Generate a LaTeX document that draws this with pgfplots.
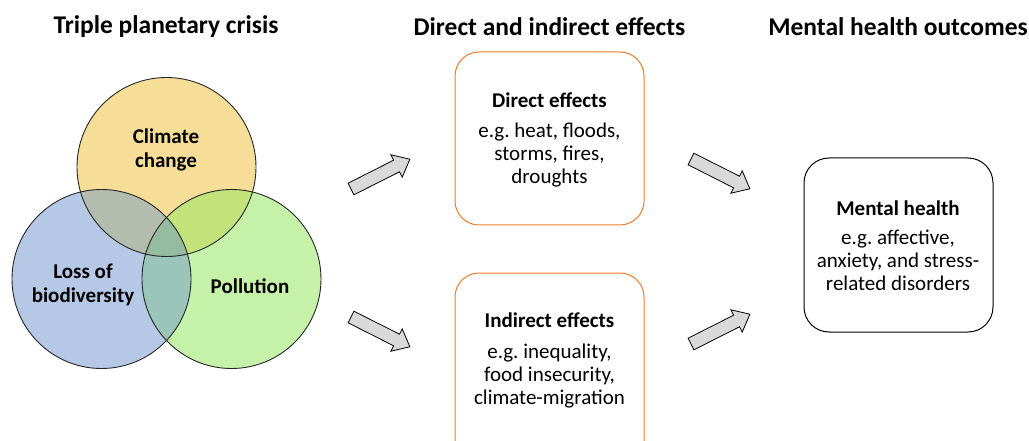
\documentclass[border=0pt]{standalone}
\usepackage{pgfplots}
\pgfplotsset{compat=1.18}
\usepackage{fontspec}
\setmainfont{Carlito}
\frenchspacing
\definecolor{cy}{HTML}{F7DE98}
\definecolor{cb}{HTML}{B5C9E6}
\definecolor{cg}{HTML}{C5F1A8}
\definecolor{cyb}{HTML}{B4BCB0}
\definecolor{cyg}{HTML}{C2E27A}
\definecolor{cbg}{HTML}{9BC5BB}
\definecolor{cybg}{HTML}{95BC9F}
\definecolor{cor}{HTML}{ED7D31}
\definecolor{carr}{HTML}{D9D9D9}
\begin{document}
\begin{tikzpicture}
\begin{axis}[width=1029pt,height=441pt,scale only axis,
  xmin=0,xmax=1029,ymin=0,ymax=441,y dir=reverse,axis lines=none,
  clip=true]
\path (axis cs:0,0) rectangle (axis cs:1029,441);
% circles
\fill[cy] (axis cs:166.5,167) circle[radius=89.5];
\fill[cb] (axis cs:101.5,279) circle[radius=89.5];
\fill[cg] (axis cs:231.5,279) circle[radius=89.5];
\begin{scope}
\clip (axis cs:166.5,167) circle[radius=89.5];
\fill[cyb] (axis cs:101.5,279) circle[radius=89.5];
\fill[cyg] (axis cs:231.5,279) circle[radius=89.5];
\clip (axis cs:101.5,279) circle[radius=89.5];
\fill[cybg] (axis cs:231.5,279) circle[radius=89.5];
\end{scope}
\begin{scope}
\clip (axis cs:101.5,279) circle[radius=89.5];
\clip (axis cs:231.5,279) circle[radius=89.5];
\fill[cbg] (axis cs:231.5,279) circle[radius=89.5];
\clip (axis cs:166.5,167) circle[radius=89.5];
\fill[cybg] (axis cs:231.5,279) circle[radius=89.5];
\end{scope}
\draw[line width=0.9pt,black!85] (axis cs:166.5,167) circle[radius=89.5];
\draw[line width=0.9pt,black!85] (axis cs:101.5,279) circle[radius=89.5];
\draw[line width=0.9pt,black!85] (axis cs:231.5,279) circle[radius=89.5];
% arrows
\addplot[fill=carr,draw=black,line width=0.8pt] coordinates {(353.9,194.8) (399.5,171.8) (402.2,177.2) (409.9,159.2) (390.9,154.8) (393.6,160.2) (348.1,183.2)} -- cycle;
\addplot[fill=carr,draw=black,line width=0.8pt] coordinates {(348.1,322.8) (393.6,345.8) (390.9,351.2) (409.9,346.8) (402.2,328.8) (399.5,334.2) (353.9,311.2)} -- cycle;
\addplot[fill=carr,draw=black,line width=0.8pt] coordinates {(688.1,164.8) (733.6,187.8) (730.9,193.2) (749.9,188.8) (742.2,170.8) (739.5,176.2) (693.9,153.2)} -- cycle;
\addplot[fill=carr,draw=black,line width=0.8pt] coordinates {(693.9,349.8) (739.5,326.8) (742.2,332.2) (749.9,314.2) (730.9,309.8) (733.6,315.2) (688.1,338.2)} -- cycle;
% boxes
\draw[cor,line width=1pt,rounded corners=24pt] (axis cs:455,52) rectangle (axis cs:644,225);
\draw[cor,line width=1pt,rounded corners=24pt] (axis cs:455,441) -- (axis cs:455,273) -- (axis cs:644,273) -- (axis cs:644,441);
\draw[black,line width=1pt,rounded corners=25pt] (axis cs:804,158) rectangle (axis cs:993,332);
% titles
\node[font=\fontsize{25.5}{30}\selectfont\bfseries] at (axis cs:166,27) {Triple planetary crisis};
\node[font=\fontsize{25.5}{30}\selectfont\bfseries] at (axis cs:549.5,27) {Direct and indirect effects};
\node[font=\fontsize{25.5}{30}\selectfont\bfseries] at (axis cs:898,27) {Mental health outcomes};
% circle labels
\node[align=center,font=\fontsize{21}{23.5}\selectfont\bfseries] at (axis cs:166,150) {Climate\\change};
\node[align=center,font=\fontsize{21}{23.5}\selectfont\bfseries] at (axis cs:83,285) {Loss of\\biodiversity};
\node[align=center,font=\fontsize{21}{23.5}\selectfont\bfseries] at (axis cs:250,286) {Pollution};
% box texts
\node[font=\fontsize{21}{23}\selectfont\bfseries] at (axis cs:549.5,100) {Direct effects};
\node[align=center,font=\fontsize{21}{23}\selectfont] at (axis cs:549.5,155) {e.g. heat, floods,\\storms, fires,\\droughts};
\node[font=\fontsize{21}{23}\selectfont\bfseries] at (axis cs:549.5,320) {Indirect effects};
\node[align=center,font=\fontsize{21}{23}\selectfont] at (axis cs:549.5,376) {e.g. inequality,\\food insecurity,\\climate-migration};
\node[font=\fontsize{21}{23}\selectfont\bfseries] at (axis cs:898,208) {Mental health};
\node[align=center,font=\fontsize{21}{23}\selectfont] at (axis cs:898,260) {e.g. affective,\\anxiety, and stress-\\related disorders};
\end{axis}
\end{tikzpicture}
\end{document}
